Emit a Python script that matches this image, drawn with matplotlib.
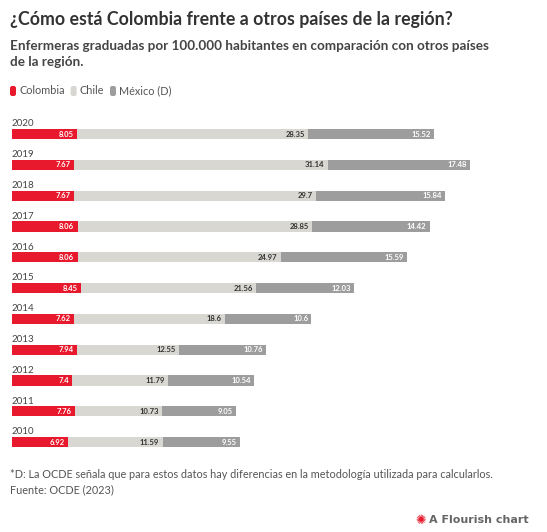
import matplotlib
matplotlib.use("Agg")
import matplotlib.pyplot as plt
from matplotlib.patches import FancyBboxPatch

years = [2020, 2019, 2018, 2017, 2016, 2015, 2014, 2013, 2012, 2011, 2010]
colombia = [8.05, 7.67, 7.67, 8.06, 8.06, 8.45, 7.62, 7.94, 7.4, 7.76, 6.92]
chile = [28.35, 31.14, 29.7, 28.85, 24.97, 21.56, 18.6, 12.55, 11.79, 10.73, 11.59]
mexico = [15.52, 17.48, 15.84, 14.42, 15.59, 12.03, 10.6, 10.76, 10.54, 9.05, 9.55]
series = ["Colombia", "Chile", "México (D)"]
colors = ["#e8192c", "#d8d7d2", "#9d9d9d"]
txtcol = ["white", "#333333", "white"]

W, H = 547, 532
fig = plt.figure(figsize=(W/100, H/100), dpi=100)
fig.patch.set_facecolor("white")
plt.rcParams['font.family'] = ['Lato', 'DejaVu Sans']

ax = fig.add_axes([12/W, (H-455)/H, (535-12)/W, 340/H])
ax.set_xlim(0, 64.3)
ax.set_ylim(-0.42, 10.62)
ax.axis("off")
n = len(years)
for i, y in enumerate(years):
    pos = n - 1 - i
    left = 0
    for vals, c, tc in zip([colombia, chile, mexico], colors, txtcol):
        v = vals[i]
        ax.barh(pos, v, left=left, height=0.33, color=c, linewidth=0)
        ax.text(left + v - 0.4, pos, f"{v:g}", ha="right", va="center",
                fontsize=5.5, fontweight="bold", color=tc)
        left += v
    ax.text(0, pos + 0.33, str(y), ha="left", va="center", fontsize=7, color="#444444")

fig.text(10/W, 1-20/H, "¿Cómo está Colombia frente a otros países de la región?",
         fontsize=12.8, fontweight="bold", color="#333333", va="center")
fig.text(10/W, 1-54/H, "Enfermeras graduadas por 100.000 habitantes en comparación con otros países\nde la región.",
         fontsize=9.7, fontweight="bold", color="#444444", va="center", linespacing=1.3)

lx = 10
for s, c in zip(series, colors):
    fig.patches.append(FancyBboxPatch((lx/W, (H-96)/H), 6/W, 10/H, boxstyle="round,pad=0,rounding_size=0.004",
                                      transform=fig.transFigure, color=c, linewidth=0))
    t = fig.text((lx+9)/W, 1-91/H, s, fontsize=7.8, color="#555555", va="center")
    fig.canvas.draw()
    bb = t.get_window_extent()
    lx = bb.x1 + 6

fig.text(10/W, 1-474/H, "*D: La OCDE señala que para estos datos hay diferencias en la metodología utilizada para calcularlos.",
         fontsize=7.8, color="#555555", va="center")
fig.text(10/W, 1-490/H, "Fuente: OCDE (2023)", fontsize=7.8, color="#555555", va="center")
fig.text(529/W, 1-520/H, "A Flourish chart", fontsize=8, fontweight="bold", color="#666666",
         ha="right", va="center", family="DejaVu Sans")
fig.text(421/W, 1-520/H, "✺", fontsize=9, color="#e8192c", ha="center", va="center", family="DejaVu Sans")

fig.savefig("out.png", dpi=100, facecolor="white")
